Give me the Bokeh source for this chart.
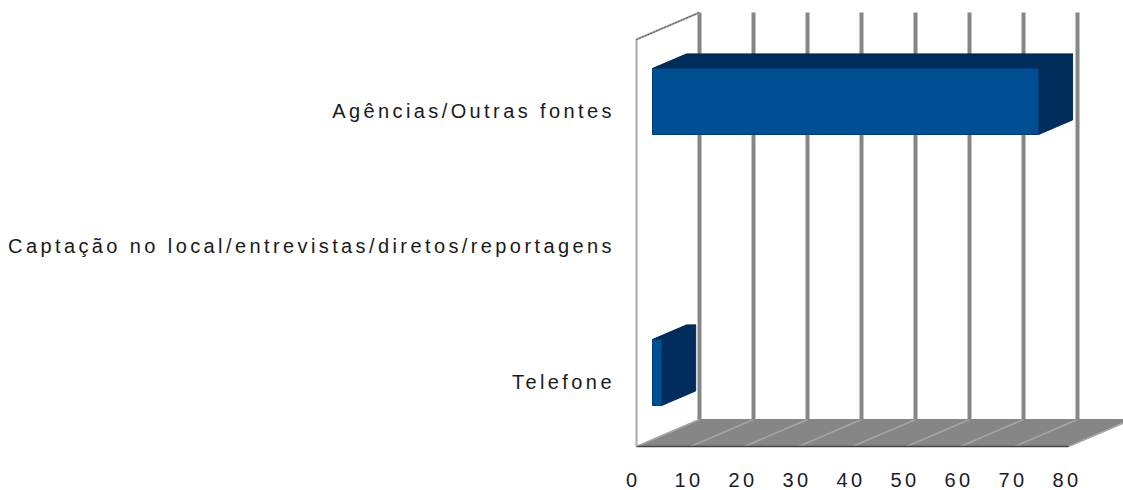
from bokeh.plotting import figure
from bokeh.embed import file_html
from bokeh.resources import INLINE
from bokeh.core.properties import value
from bokeh.models import FixedTicker, InlineStyleSheet, LinearAxis, Range1d

categories = ["Telefone", "Captação no local/entrevistas/diretos/reportagens", "Agências/Outras fontes"]
values = [1.7, 0.0, 71.5]
x_ticks = [0, 10, 20, 30, 40, 50, 60, 70, 80]

# scale: px per unit
PX_X = 5.4
PX_Y = 135.5
W, H = 1123, 490
F_BOTTOM = 28
FH = H - F_BOTTOM
X_START = -636 / PX_X
Y_TOP = 381 / PX_Y
DX = 63 / PX_X      # floor depth in x units
DY = 27 / PX_Y      # floor depth in y units
FLOOR_Y = -65 / PX_Y
WALL_H = 407 / PX_Y
BAR_D0 = 16 / 63
BAR_D1 = 50 / 63
BAR_HALF = 33 / PX_Y
BAR_SHIFT = 9 / PX_Y
SPACING = 3.4
LABEL_SHIFT = 5 / PX_X

p = figure(width=W, height=H, output_backend="svg", toolbar_location=None,
           x_range=(X_START, X_START + W / PX_X),
           y_range=(Y_TOP - FH / PX_Y, Y_TOP), min_border=0,
           min_border_bottom=F_BOTTOM, x_axis_location=None, y_axis_location=None,
           outline_line_color=None, background_fill_color=None)
p.grid.visible = False
p.stylesheets = [InlineStyleSheet(css=f":host {{ letter-spacing: {SPACING}px; }}")]

p.extra_x_ranges = {"labels": Range1d(X_START + LABEL_SHIFT, X_START + LABEL_SHIFT + W / PX_X)}
xaxis = LinearAxis(x_range_name="labels", ticker=FixedTicker(ticks=x_ticks),
                   axis_line_color=None, major_tick_line_color=None, minor_tick_line_color=None,
                   major_tick_out=0, major_tick_in=0, major_label_text_font="Liberation Sans",
                   major_label_text_font_size="20px", major_label_text_color="#1a1a2a",
                   major_label_standoff=10)
p.add_layout(xaxis, "below")

# floor
x_max = x_ticks[-1]
p.patch([0, x_max, x_max + DX, DX], [FLOOR_Y, FLOOR_Y, FLOOR_Y + DY, FLOOR_Y + DY],
        fill_color="#868686", line_color="#868686", line_width=1)
p.segment(x_ticks, [FLOOR_Y] * 9, [t + DX for t in x_ticks], [FLOOR_Y + DY] * 9,
          line_color="#a6a6a6", line_width=1.5)
p.segment([0], [FLOOR_Y], [x_max], [FLOOR_Y], line_color="#444444", line_width=1.5)

# back grid lines
p.segment([t + DX for t in x_ticks], [FLOOR_Y + DY] * 9,
          [t + DX for t in x_ticks], [FLOOR_Y + DY + WALL_H] * 9,
          line_color="#868686", line_width=4)

# left wall
p.line([0, 0, DX], [FLOOR_Y, FLOOR_Y + WALL_H, FLOOR_Y + DY + WALL_H],
       line_color="#a8a8a8", line_width=2)
p.line([0, DX], [FLOOR_Y + WALL_H, FLOOR_Y + DY + WALL_H], line_color="#555555", line_width=1,
       line_dash="2 1")

# bars
for i, v in enumerate(values):
    if v <= 0:
        continue
    x0 = BAR_D0 * DX
    x1 = x0 + v
    sx = (BAR_D1 - BAR_D0) * DX
    sy = (BAR_D1 - BAR_D0) * DY
    yb = i + BAR_SHIFT - BAR_HALF
    yt = i + BAR_SHIFT + BAR_HALF
    p.patch([x0, x1, x1 + sx, x0 + sx], [yt, yt, yt + sy, yt + sy],
            fill_color="#002d5c", line_color="#001f42", line_width=1)
    p.patch([x1, x1 + sx, x1 + sx, x1], [yb, yb + sy, yt + sy, yt],
            fill_color="#002d5c", line_color="#002d5c", line_width=1)
    p.quad(left=[x0], right=[x1], bottom=[yb], top=[yt],
           fill_color="#004f93", line_color="#003c72", line_width=1)

# category labels: letter spacing is not in Bokeh's measure, so offset each by its extra width
p.text(x=[-25 / PX_X] * 3, y=list(range(3)), text=categories,
       x_offset=[-SPACING * (len(c) - 1) for c in categories],
       text_align="right", text_baseline="middle", text_font=value("Liberation Sans"),
       text_font_size="20px", text_color="#1a1a1a")

open("out.html", "w").write(file_html(p, INLINE))
